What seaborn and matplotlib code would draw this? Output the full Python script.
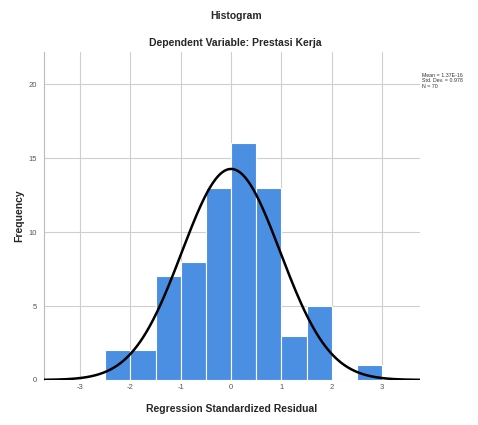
import matplotlib
matplotlib.use("Agg")
import matplotlib.pyplot as plt
import numpy as np
import pandas as pd
import seaborn as sns

# histogram of standardized residuals (bin width 0.5)
bin_edges = [-2.5, -2.0, -1.5, -1.0, -0.5, 0.0, 0.5, 1.0, 1.5, 2.0, 2.5, 3.0]
bin_counts = [2, 2, 7, 8, 13, 16, 13, 3, 5, 0, 1]
x_ticks = [-3, -2, -1, 0, 1, 2, 3]
y_ticks = [0, 5, 10, 15, 20]

mean_val = 1.37e-16
sd_val = 0.978
n_val = 70

sns.set_style("white")
plt.rcParams["font.family"] = ["Liberation Sans", "DejaVu Sans"]

centers = [(a + b) / 2 for a, b in zip(bin_edges[:-1], bin_edges[1:])]
df = pd.DataFrame({"resid": centers, "count": bin_counts})

fig = plt.figure(figsize=(4.78, 4.25), dpi=100)
ax = fig.add_axes([0.092, 0.106, 0.787, 0.772])

sns.histplot(
    data=df, x="resid", weights="count", bins=bin_edges,
    color="#4a8fe2", alpha=1.0, edgecolor="white", linewidth=0.8, ax=ax, zorder=2,
)

# fitted normal curve scaled to counts
bw = bin_edges[1] - bin_edges[0]
xs = np.linspace(-3.72, 3.76, 400)
ys = n_val * bw * np.exp(-0.5 * ((xs - mean_val) / sd_val) ** 2) / (sd_val * np.sqrt(2 * np.pi))
sns.lineplot(x=xs, y=ys, color="black", linewidth=1.8, ax=ax, zorder=3)

ax.set_xlim(-3.72, 3.76)
ax.set_ylim(0, 22.2)
ax.set_xticks(x_ticks)
ax.set_yticks(y_ticks)
ax.set_xticklabels([str(t) for t in x_ticks], fontsize=5.5, color="#555555")
ax.set_yticklabels([str(t) for t in y_ticks], fontsize=5.5, color="#555555")
ax.grid(True, color="#cfcfcf", linewidth=0.8, zorder=0)
ax.set_axisbelow(True)
ax.tick_params(axis="both", length=2, width=0.6, color="#999999", pad=3)
ax.tick_params(axis="x", length=0)
for side in ["top", "right", "bottom"]:
    ax.spines[side].set_visible(False)
ax.spines["left"].set_color("#bbbbbb")
ax.spines["left"].set_linewidth(0.8)

ax.set_xlabel("Regression Standardized Residual", fontsize=7.5, fontweight="bold", labelpad=9)
ax.set_ylabel("Frequency", fontsize=7.5, fontweight="bold", labelpad=3)

fig.text(0.493, 0.962, "Histogram", ha="center", va="center", fontsize=7.5, fontweight="bold")
fig.text(0.493, 0.899, "Dependent Variable: Prestasi Kerja", ha="center", va="center",
         fontsize=7.5, fontweight="bold")
fig.text(0.882, 0.81, f"Mean = {mean_val:.2E}\nStd. Dev. = {sd_val}\nN = {n_val}",
         ha="left", va="center", fontsize=3.8, linespacing=1.1, color="#333333")

fig.savefig("out.png", dpi=100)
